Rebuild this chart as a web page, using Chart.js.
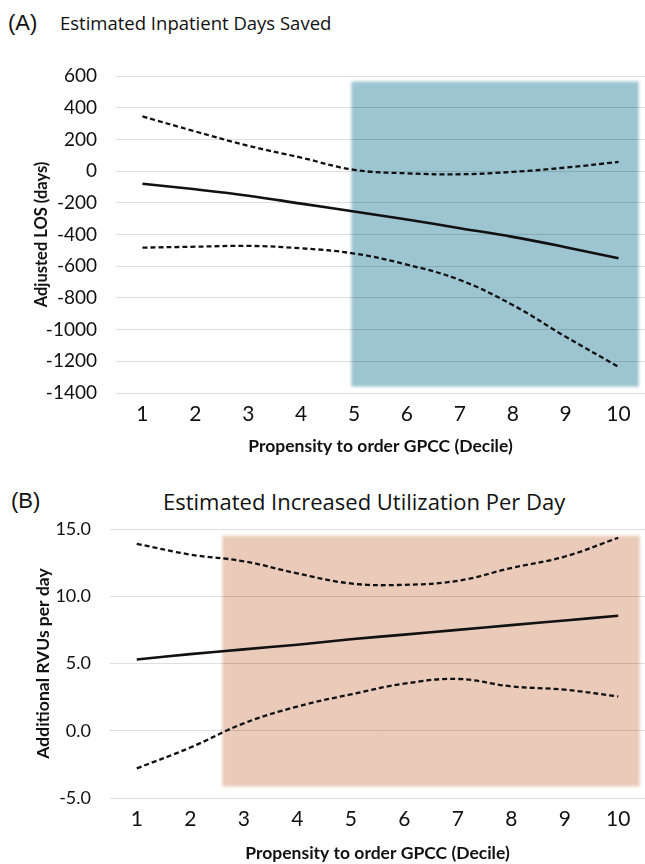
<!DOCTYPE html>
<html lang="en">
<head>
    <meta charset="UTF-8">
    <title>Estimated Inpatient Days Saved / Increased Utilization</title>
    <script src="https://cdn.jsdelivr.net/npm/chart.js"></script>
    <style>
        body {
            margin: 0;
            background: #ffffff;
            width: 645px;
            height: 864px;
            overflow: hidden;
            position: relative;
            font-family: "Open Sans", sans-serif;
        }
        .panel { position: absolute; left: 0; width: 645px; }
        .tag {
            position: absolute;
            font-family: "Liberation Sans", Arial, sans-serif;
            font-size: 22px;
            color: #111;
        }
        .head {
            position: absolute;
            font-family: "Open Sans", sans-serif;
            color: #111;
            white-space: nowrap;
        }
    </style>
</head>
<body>
    <div class="tag" style="left:8px; top:10px;">(A)</div>
    <div class="head" style="left:60px; top:10px; font-size:18.5px;">Estimated Inpatient Days Saved</div>
    <div class="panel" style="top:0; height:460px;"><canvas id="chartA"></canvas></div>

    <div class="tag" style="left:11px; top:488px;">(B)</div>
    <div class="head" style="left:163px; top:486px; font-size:22px;">Estimated Increased Utilization Per Day</div>
    <div class="panel" style="top:470px; height:394px;"><canvas id="chartB"></canvas></div>

    <script>
        // deciles on x
        const deciles = [1, 2, 3, 4, 5, 6, 7, 8, 9, 10];

        // (A) adjusted LOS, days
        const losMid = [-80, -115, -155, -205, -255, -305, -360, -415, -480, -550];
        const losUpper = [345, 250, 160, 85, 8, -14, -20, -5, 22, 58];
        const losLower = [-483, -477, -472, -487, -520, -590, -687, -845, -1045, -1235];
        const losTicks = [-1400, 600, 200];   // min, max, step
        const shadeAx = [4.95, 10.38];
        const shadeAy = [-1360, 565];

        // (B) additional RVUs per day
        const rvuMid = [5.3, 5.7, 6.05, 6.4, 6.8, 7.15, 7.5, 7.85, 8.2, 8.55];
        const rvuUpper = [13.9, 13.1, 12.6, 11.7, 10.95, 10.85, 11.15, 12.1, 12.95, 14.35];
        const rvuLower = [-2.8, -1.25, 0.55, 1.8, 2.7, 3.5, 3.85, 3.3, 3.05, 2.55];
        const rvuTicks = [-5, 15, 5];
        const shadeBx = [2.6, 10.4];
        const shadeBy = [-4.15, 14.5];

        // shaded band behind the grid, blurred edges like the original
        const shadePlugin = {
            id: 'shade',
            beforeDraw(chart, args, opts) {
                const { ctx, scales } = chart;
                const x0 = scales.x.getPixelForValue(opts.xr[0]);
                const x1 = scales.x.getPixelForValue(opts.xr[1]);
                const y0 = scales.y.getPixelForValue(opts.yr[1]);
                const y1 = scales.y.getPixelForValue(opts.yr[0]);
                ctx.save();
                ctx.filter = 'blur(1.5px)';
                ctx.fillStyle = opts.color;
                ctx.fillRect(x0, y0, x1 - x0, y1 - y0);
                ctx.restore();
            }
        };

        function pts(arr) {
            return deciles.map((d, i) => ({ x: d, y: arr[i] }));
        }

        function lineSet(arr, dashed) {
            return {
                data: pts(arr),
                borderColor: '#111111',
                borderWidth: dashed ? 2.3 : 2.6,
                borderDash: dashed ? [5, 3] : [],
                tension: 0.4,
                pointRadius: 0,
                fill: false
            };
        }

        function makeChart(id, cfg) {
            const ctx = document.getElementById(id).getContext('2d');
            return new Chart(ctx, {
                type: 'line',
                data: {
                    datasets: [
                        lineSet(cfg.upper, true),
                        lineSet(cfg.mid, false),
                        lineSet(cfg.lower, true)
                    ]
                },
                plugins: [shadePlugin],
                options: {
                    responsive: true,
                    maintainAspectRatio: false,
                    animation: false,
                    layout: { padding: { top: cfg.top, right: 0, bottom: 0, left: 0 } },
                    scales: {
                        x: {
                            type: 'linear',
                            min: 0.5,
                            max: cfg.xmax,
                            afterBuildTicks: (s) => { s.ticks = deciles.map(v => ({ value: v })); },
                            afterFit: (s) => { s.height = cfg.xh; },
                            grid: { display: false, drawTicks: false },
                            border: { display: false },
                            ticks: {
                                color: '#111',
                                padding: cfg.xpad,
                                maxRotation: 0,
                                font: { family: 'Lato', size: 21 }
                            },
                            title: {
                                display: true,
                                text: 'Propensity to order GPCC (Decile)',
                                color: '#111',
                                padding: { top: 0, bottom: cfg.tpad },
                                font: { family: 'Lato', size: 17.5, weight: 'bold' }
                            }
                        },
                        y: {
                            min: cfg.yt[0],
                            max: cfg.yt[1],
                            afterFit: (s) => { s.width = cfg.yw; },
                            grid: { color: 'rgba(0,0,0,0.13)', lineWidth: 1, drawTicks: false },
                            border: { display: false },
                            ticks: {
                                stepSize: cfg.yt[2],
                                color: '#111',
                                padding: 19,
                                font: { family: 'Lato', size: cfg.yfont },
                                callback: cfg.fmt
                            },
                            title: {
                                display: true,
                                text: cfg.ytitle,
                                color: '#111',
                                padding: { top: cfg.ytpad, bottom: 0 },
                                font: { family: 'Lato', size: cfg.ytsize, weight: 'bold' }
                            }
                        }
                    },
                    plugins: {
                        legend: { display: false },
                        tooltip: { enabled: false },
                        shade: { xr: cfg.sx, yr: cfg.sy, color: cfg.color }
                    }
                }
            });
        }

        makeChart('chartA', {
            upper: losUpper, mid: losMid, lower: losLower,
            yt: losTicks, sx: shadeAx, sy: shadeAy, color: '#9cc4d1',
            top: 76, xmax: 10.5, xh: 67, xpad: 9, tpad: 3,
            yw: 116, yfont: 19, ytpad: 32, ytsize: 16.5,
            ytitle: 'Adjusted LOS (days)',
            fmt: (v) => String(v)
        });

        makeChart('chartB', {
            upper: rvuUpper, mid: rvuMid, lower: rvuLower,
            yt: rvuTicks, sx: shadeBx, sy: shadeBy, color: '#eacab8',
            top: 59, xmax: 10.5, xh: 66, xpad: 9, tpad: 0,
            yw: 110, yfont: 18, ytpad: 33, ytsize: 17.5,
            ytitle: 'Additional RVUs per day',
            fmt: (v) => v.toFixed(1)
        });
    </script>
</body>
</html>
